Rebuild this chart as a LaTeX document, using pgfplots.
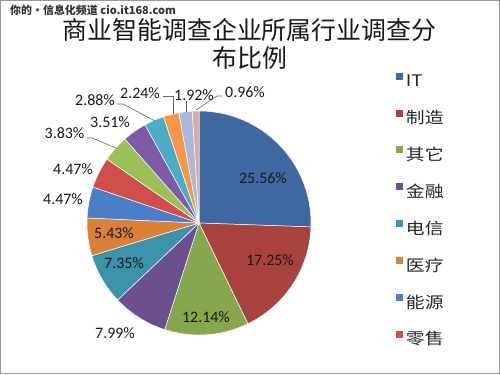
\documentclass[border=0pt]{standalone}
\usepackage{pgfplots}
\pgfplotsset{compat=1.18}
\usepackage{pgfplotstable}
\usepackage{fontspec}
\setmainfont{Carlito}
\newfontfamily\cjk{Noto Sans CJK SC}
\newfontfamily\cjkwide[FakeStretch=1.18]{Noto Sans CJK SC}

\definecolor{c1}{HTML}{4068A0}
\definecolor{c2}{HTML}{A8423F}
\definecolor{c3}{HTML}{86A74C}
\definecolor{c4}{HTML}{6C4F8E}
\definecolor{c5}{HTML}{3D92AB}
\definecolor{c6}{HTML}{D9803B}
\definecolor{c7}{HTML}{4A7FC8}
\definecolor{c8}{HTML}{CF4E4A}
\definecolor{c9}{HTML}{9BC05A}
\definecolor{c10}{HTML}{7D5BA6}
\definecolor{c11}{HTML}{4BACC6}
\definecolor{c12}{HTML}{F79646}
\definecolor{c13}{HTML}{AAB9D9}
\definecolor{c14}{HTML}{DBA9A8}

\pgfplotstableread{
value col
25.56 c1
17.25 c2
12.14 c3
7.99 c4
7.35 c5
5.43 c6
4.47 c7
4.47 c8
3.83 c9
3.51 c10
2.88 c11
2.24 c12
1.92 c13
0.96 c14
}\piedata

\begin{document}
\begin{tikzpicture}
\begin{axis}[
  scale only axis, width=500bp, height=374bp,
  xmin=0, xmax=500, ymin=0, ymax=374,
  hide axis, clip=false,
  legend style={at={(axis cs:396,301.3)}, anchor=north west, draw=none, fill=none,
    inner sep=0pt, outer sep=0pt,
    font=\cjkwide\fontsize{16}{16}\selectfont, text=black!85,
    row sep=19.8pt,
    nodes={inner sep=0pt, text height=13pt, text depth=3pt},
    /tikz/every odd column/.append style={column sep=3pt}},
  legend cell align=left,
  legend image code/.code={\fill[#1,draw=none] (0pt,2.2pt) rectangle (7pt,9.2pt);},
]
\draw[black!40, line width=1pt] (axis cs:0.5,0.5) rectangle (axis cs:499.5,373.5);

\def\startang{90}
\pgfplotsforeachungrouped \i in {0,...,13}{
  \pgfplotstablegetelem{\i}{value}\of\piedata \let\sliceval\pgfplotsretval
  \pgfplotstablegetelem{\i}{col}\of\piedata \let\slicecol\pgfplotsretval
  \pgfmathsetmacro\endang{\startang-3.6*\sliceval}
  \edef\cmd{\noexpand\addplot[fill=\slicecol, draw=white, line width=0.5pt,
     domain=\endang:\startang, samples=80\ifnum\i>7 , forget plot\fi]
     ({199+112*cos(x)},{151+112*sin(x)}) -- (axis cs:199,151) -- cycle;}
  \cmd
  \global\let\startang\endang
}
\legend{IT,制造,其它,金融,电信,医疗,能源,零售}

% leader lines
\draw[black!60, line width=0.6pt] (axis cs:222,278) -- (axis cs:217,278) -- (axis cs:196,264);
\draw[black!60, line width=0.6pt] (axis cs:186,273) -- (axis cs:186,262);
\draw[black!60, line width=0.6pt] (axis cs:163,278) -- (axis cs:173,278) -- (axis cs:173,260);
\draw[black!60, line width=0.6pt] (axis cs:117,270) -- (axis cs:123,270) -- (axis cs:155,253);
\draw[black!60, line width=0.6pt] (axis cs:87,236) -- (axis cs:92,236) -- (axis cs:116,226);

% data labels
\begin{scope}[every node/.style={font=\fontsize{16}{16}\selectfont, text=black!90, inner sep=0pt}]
\node at (axis cs:263,196) {25.56\%};
\node at (axis cs:270,114) {17.25\%};
\node at (axis cs:206,57) {12.14\%};
\node at (axis cs:115,41) {7.99\%};
\node at (axis cs:124,111) {7.35\%};
\node at (axis cs:114,141) {5.43\%};
\node at (axis cs:63,175) {4.47\%};
\node at (axis cs:73,205) {4.47\%};
\node at (axis cs:64.5,241) {3.83\%};
\node at (axis cs:110,252) {3.51\%};
\node at (axis cs:95,274) {2.88\%};
\node at (axis cs:140,281) {2.24\%};
\node at (axis cs:194,279) {1.92\%};
\node at (axis cs:245,282) {0.96\%};
\end{scope}

% title
\node[font=\cjk\fontsize{25}{30}\selectfont, text=black!90, inner sep=0pt] at (axis cs:249.5,344.5) {商业智能调查企业所属行业调查分};
\node[font=\cjk\fontsize{25}{30}\selectfont, text=black!90, inner sep=0pt] at (axis cs:250,316) {布比例};

% watermark
\node[font=\cjk\bfseries\fontsize{11}{11}\selectfont, text=black!80, anchor=west, inner sep=0pt] at (axis cs:10,363.5) {你的·信息化频道\ cio.it168.com};
\end{axis}
\end{tikzpicture}
\end{document}
